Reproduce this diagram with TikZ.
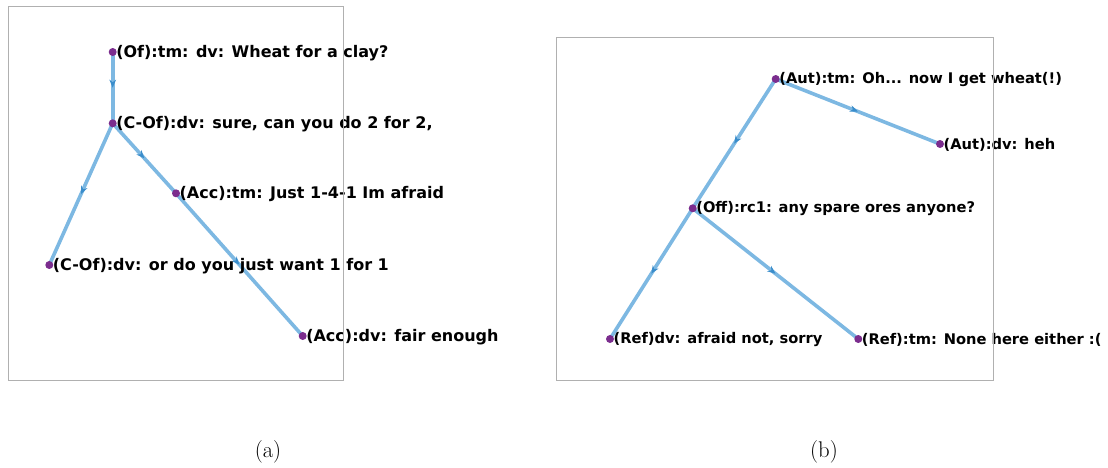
\documentclass[tikz,border=0pt]{standalone}
\usepackage{fontspec}
\setsansfont{DejaVu Sans}
\usetikzlibrary{decorations.markings,arrows.meta}
\pgfdeclarelayer{bg}
\pgfsetlayers{bg,main}
\definecolor{edgeblue}{HTML}{7DB8E2}
\definecolor{tipblue}{HTML}{3A8DCB}
\definecolor{dotpurple}{HTML}{7B2D8E}
\definecolor{framegray}{HTML}{B0B0B0}
\begin{document}
\begin{tikzpicture}[x=0.75pt,y=-0.75pt,
  dot/.style={circle,fill=dotpurple,inner sep=0pt,minimum size=6pt},
  lbl/.style={anchor=west,font=\sffamily\bfseries\fontsize{12}{14}\selectfont,inner sep=0pt,xshift=2.5pt,yshift=-0.5pt},
  lblb/.style={lbl,font=\sffamily\bfseries\fontsize{11}{13}\selectfont},
  edgeline/.style={draw=edgeblue,line width=2.7pt,postaction={decorate},
    decoration={markings,mark=at position 0.5 with {\arrow[tipblue]{Stealth[length=6pt,width=5pt]}}}},
  framebox/.style={draw=framegray,line width=0.75pt},
  captext/.style={font=\fontsize{17}{20}\selectfont}]
\useasboundingbox (0,0) rectangle (1108,468);
% (a)
\node[dot] (of)   at (112.7,52)  {};
\node[dot] (cof1) at (112.7,123.3) {};
\node[dot] (acct) at (176,193.3) {};
\node[dot] (cof2) at (49.3,265)  {};
\node[dot] (accd) at (302.7,336) {};
\node[lbl] (lof)   at (of.center)   {(Of):tm: dv: Wheat for a clay?};
\node[lbl] (lcof1) at (cof1.center) {(C-Of):dv: sure, can you do 2 for 2,};
\node[lbl] (lacct) at (acct.center) {(Acc):tm: Just 1-4-1 Im afraid};
\node[lbl] (lcof2) at (cof2.center) {(C-Of):dv: or do you just want 1 for 1};
\node[lbl] (laccd) at (accd.center) {(Acc):dv: fair enough};
% (b)
\node[dot] (autt) at (775.7,79)  {};
\node[dot] (autd) at (940,144) {};
\node[dot] (off)  at (692.7,208.3) {};
\node[dot] (refd) at (610,339) {};
\node[dot] (reft) at (858.3,339) {};
\node[lblb] (lautt) at (autt.center) {(Aut):tm: Oh... now I get wheat(!)};
\node[lblb] (lautd) at (autd.center) {(Aut):dv: heh};
\node[lblb] (loff)  at (off.center)  {(Off):rc1: any spare ores anyone?};
\node[lblb] (lrefd) at (refd.center) {(Ref)dv: afraid not, sorry};
\node[lblb] (lreft) at (reft.center) {(Ref):tm: None here either :(};
\begin{pgfonlayer}{bg}
\draw[edgeline] (of.center) -- (cof1.center);
\draw[edgeline] (cof1.center) -- (cof2.center);
\draw[edgeline] (cof1.center) -- (acct.center);
\draw[edgeline] (acct.center) -- (accd.center);
\draw[edgeline] (autt.center) -- (autd.center);
\draw[edgeline] (autt.center) -- (off.center);
\draw[edgeline] (off.center) -- (refd.center);
\draw[edgeline] (off.center) -- (reft.center);
\end{pgfonlayer}
\draw[framebox] (8,6) rectangle (343,380);
\draw[framebox] (556,37) rectangle (993,380);
\node[captext] (capa) at (268,452) {(a)};
\node[captext] (capb) at (824,452) {(b)};
\end{tikzpicture}
\end{document}
